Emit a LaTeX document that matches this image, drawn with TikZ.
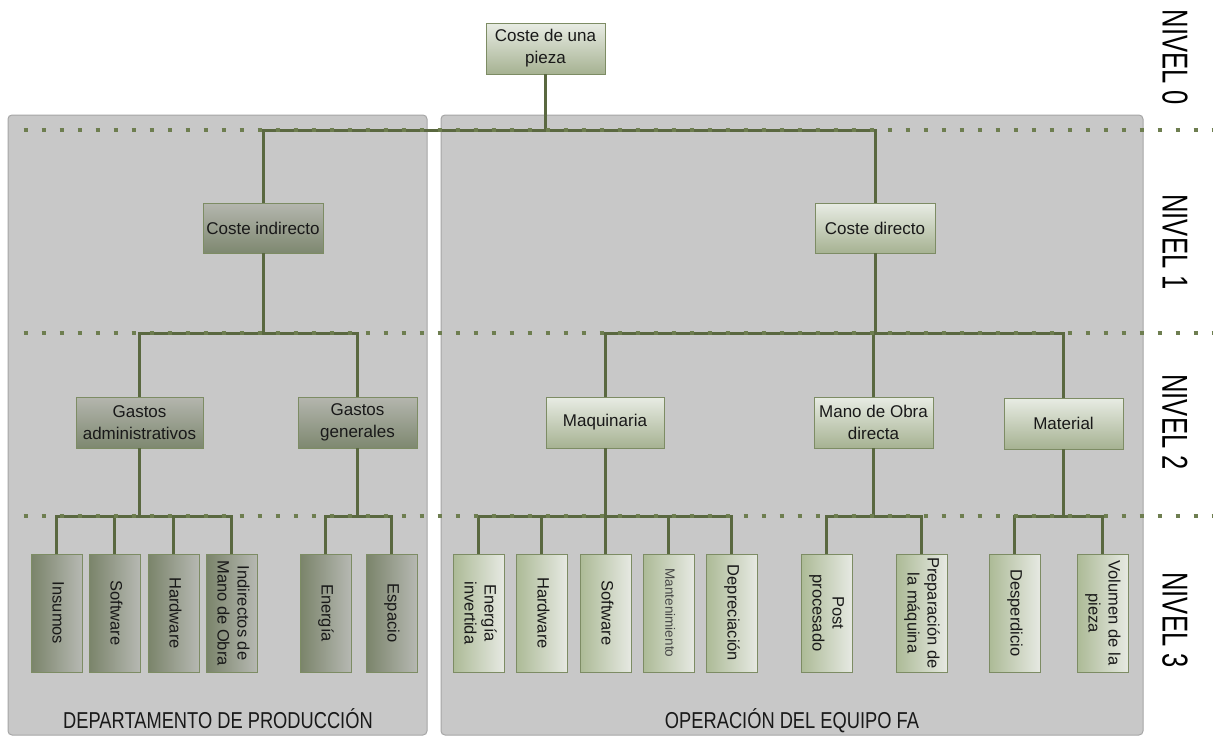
\documentclass[tikz,border=0pt]{standalone}
\usepackage{fontspec}
\setmainfont{Liberation Sans}
\usepackage{graphicx}

\definecolor{panelfill}{RGB}{200,200,200}
\definecolor{panelline}{RGB}{166,166,166}
\definecolor{connc}{RGB}{90,104,64}
\definecolor{dotc}{RGB}{110,126,80}
\definecolor{boxline}{RGB}{125,140,100}
\definecolor{txt}{RGB}{25,25,25}
\definecolor{dtop}{RGB}{180,182,174}
\definecolor{dbot}{RGB}{126,136,112}
\definecolor{ltop}{RGB}{232,236,228}
\definecolor{lbot}{RGB}{166,178,146}
\definecolor{dleafl}{RGB}{122,132,106}
\definecolor{dleafr}{RGB}{182,184,178}
\definecolor{lleafl}{RGB}{172,186,150}
\definecolor{lleafr}{RGB}{230,233,226}

% vertical text for the bottom row of boxes
\newcommand{\vtext}[1]{\rotatebox{-90}{\begin{tabular}{@{}c@{}}#1\end{tabular}}}

\begin{document}
\begin{tikzpicture}[x=1pt,y=-1pt,
  panel/.style={fill=panelfill, draw=panelline, line width=1pt, rounded corners=4pt},
  conn/.style={draw=connc, line width=3pt},
  dots/.style={draw=dotc, line width=4pt, dash pattern=on 4pt off 14pt},
  box/.style={draw=boxline, line width=0.9pt, inner sep=0pt, align=center,
    text=txt, font=\fontsize{17}{22}\selectfont},
  darkbox/.style={box, top color=dtop, bottom color=dbot},
  lightbox/.style={box, top color=ltop, bottom color=lbot},
  leaf/.style={draw=boxline, line width=0.9pt, inner sep=0pt,
    minimum width=51pt, minimum height=118pt, text=txt,
    font=\fontsize{16.5}{20}\selectfont},
  darkleaf/.style={leaf, left color=dleafl, right color=dleafr},
  lightleaf/.style={leaf, left color=lleafl, right color=lleafr},
  level/.style={font=\fontsize{36}{36}\selectfont, text=black, inner sep=0pt},
  dept/.style={font=\fontsize{23}{23}\selectfont, text=txt, inner sep=0pt, anchor=base}
]
\useasboundingbox (0,0) rectangle (1213,736);
\fill[white] (0,0) rectangle (1213,736);

% the two areas
\path[panel] (8,115) rectangle (427,735);
\path[panel] (441,115) rectangle (1143,735);

% level separators
\coordinate (b0) at (0,130);
\coordinate (b1) at (0,333);
\coordinate (b2) at (0,516);
\coordinate (d0l) at (23.5,130); \coordinate (d0r) at (1213,130);
\coordinate (d1l) at (23.5,333); \coordinate (d1r) at (1213,333);
\coordinate (d2l) at (23.5,516); \coordinate (d2r) at (1213,516);

% level 0 to 2
\node[lightbox, minimum width=119pt, minimum height=51pt] (top) at (545.5,48.5) {Coste de una\\pieza};
\node[darkbox, minimum width=120pt, minimum height=50pt] (ci) at (263,228) {Coste indirecto};
\node[lightbox, minimum width=120pt, minimum height=50pt] (cd) at (875,228) {Coste directo};
\node[darkbox, minimum width=127pt, minimum height=51pt] (ga) at (139.5,422.5) {Gastos\\administrativos};
\node[darkbox, minimum width=119pt, minimum height=51pt] (gg) at (357.5,422.5) {Gastos\\generales};
\node[lightbox, minimum width=118pt, minimum height=51pt] (maq) at (605,422.5) {Maquinaria};
\node[lightbox, minimum width=119pt, minimum height=51pt] (mo) at (873.5,422.5) {Mano de Obra\\directa};
\node[lightbox, minimum width=119pt, minimum height=51pt] (mat) at (1063.5,423.5) {Material};

% level 3
\node[darkleaf] (ins) at (56.5,613) {\vtext{Insumos}};
\node[darkleaf] (sw1) at (114.5,613) {\vtext{Software}};
\node[darkleaf] (hw1) at (173.5,613) {\vtext{Hardware}};
\node[darkleaf] (imo) at (231.5,613) {\vtext{Indirectos de\\Mano de Obra}};
\node[darkleaf] (ene) at (325.5,613) {\vtext{Energía}};
\node[darkleaf] (esp) at (391.5,613) {\vtext{Espacio}};
\node[lightleaf] (ein) at (478.5,613) {\vtext{Energía\\invertida}};
\node[lightleaf] (hw2) at (541.5,613) {\vtext{Hardware}};
\node[lightleaf] (sw2) at (605.5,613) {\vtext{Software}};
\node[lightleaf, font=\fontsize{13.5}{16}\selectfont, text={rgb,255:red,70;green,70;blue,70}] (man) at (668.5,613) {\vtext{Mantenimiento}};
\node[lightleaf] (dep) at (731.5,613) {\vtext{Depreciación}};
\node[lightleaf] (pos) at (826.5,613) {\vtext{Post\\procesado}};
\node[lightleaf] (pre) at (921.5,613) {\vtext{Preparación de\\la máquina}};
\node[lightleaf] (des) at (1014.5,613) {\vtext{Desperdicio}};
\node[lightleaf] (vol) at (1102.5,613) {\vtext{Volumen de la\\pieza}};

% tree connectors
\foreach \p/\b/\c in {top/b0/ci, top/b0/cd,
    ci/b1/ga, ci/b1/gg, cd/b1/maq, cd/b1/mo, cd/b1/mat,
    ga/b2/ins, ga/b2/sw1, ga/b2/hw1, ga/b2/imo,
    gg/b2/ene, gg/b2/esp,
    maq/b2/ein, maq/b2/hw2, maq/b2/sw2, maq/b2/man, maq/b2/dep,
    mo/b2/pos, mo/b2/pre, mat/b2/des, mat/b2/vol}
  \draw[conn] (\p.south) -- (\p.south |- \b) -| (\c.north);

% dotted level lines
\draw[dots] (d0l) -- (d0r);
\draw[dots] (d1l) -- (d1r);
\draw[dots] (d2l) -- (d2r);

% level labels
\node[level] (n0) at (1175,57.5) {\rotatebox{-90}{\scalebox{0.71}[1]{NIVEL 0}}};
\node[level] (n1) at (1175,242) {\rotatebox{-90}{\scalebox{0.71}[1]{NIVEL 1}}};
\node[level] (n2) at (1175,422) {\rotatebox{-90}{\scalebox{0.71}[1]{NIVEL 2}}};
\node[level] (n3) at (1175,620) {\rotatebox{-90}{\scalebox{0.71}[1]{NIVEL 3}}};

% area labels
\node[dept] (dpl) at (218,728) {\scalebox{0.795}[1]{DEPARTAMENTO DE PRODUCCIÓN}};
\node[dept] (opl) at (792,728) {\scalebox{0.795}[1]{OPERACIÓN DEL EQUIPO FA}};
\end{tikzpicture}
\end{document}
